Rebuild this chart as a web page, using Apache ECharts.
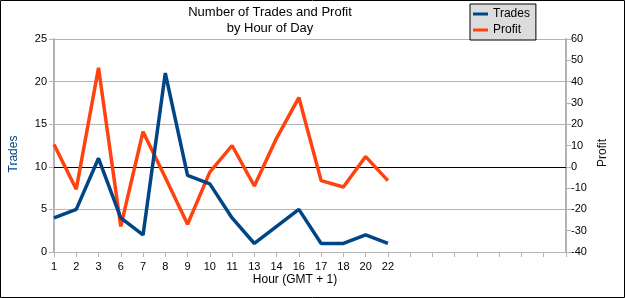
<!DOCTYPE html>
<html>
<head>
<meta charset="utf-8">
<title>Number of Trades and Profit by Hour of Day</title>
<script src="https://cdn.jsdelivr.net/npm/echarts@6/dist/echarts.min.js"></script>
<style>
  html, body { margin: 0; padding: 0; background: #fff; }
  #chart { width: 625px; height: 298px; }
</style>
</head>
<body>
<div id="chart"></div>
<script>
// hours that had trades, plus empty slots to the right like the original sheet
var hours = ['1', '2', '3', '6', '7', '8', '9', '10', '11', '13', '14', '16', '17', '18', '20', '22',
             '', '', '', '', '', '', '', ''];
var trades = [4, 5, 11, 4, 2, 21, 9, 8, 4, 1, 3, 5, 1, 1, 2, 1];
var profit = [10.5, -10.5, 46.5, -28, 16.5, -5, -27, -2.5, 10, -9, 13.5, 32.5, -6.5, -9.5, 4.8, -6.5];

var chart = echarts.init(document.getElementById('chart'), null, { renderer: 'canvas' });
var font = '"Liberation Sans", Arial, sans-serif';
var gridGray = '#b3b3b3';

var option = {
  backgroundColor: '#ffffff',
  animation: false,
  textStyle: { fontFamily: font },
  color: ['#004586', '#ff420e'],
  grid: { left: 54, right: 59, top: 39, bottom: 46, containLabel: false },
  legend: {
    orient: 'vertical',
    left: 470,
    top: 4,
    icon: 'rect',
    itemWidth: 15,
    itemHeight: 3,
    itemGap: 4,
    padding: [4, 6, 4, 3],
    backgroundColor: '#dcdcdc',
    borderColor: '#000',
    borderWidth: 1,
    textStyle: { fontSize: 12, color: '#000' },
    data: ['Trades', 'Profit']
  },
  xAxis: {
    type: 'category',
    data: hours,
    boundaryGap: false,
    axisLine: { lineStyle: { color: gridGray, width: 1 } },
    axisTick: { interval: 0, length: 5, lineStyle: { color: gridGray } },
    axisLabel: { interval: 0, fontSize: 11, color: '#000', margin: 9 },
    splitLine: { show: false }
  },
  yAxis: [{
    type: 'value',
    min: 0, max: 25, interval: 5,
    axisLine: { show: true, lineStyle: { color: gridGray, width: 2 } },
    axisTick: { show: true, length: 5, lineStyle: { color: gridGray } },
    axisLabel: { fontSize: 11, color: '#000', margin: 7 },
    splitLine: { show: true, lineStyle: { color: gridGray, width: 1 } }
  }, {
    type: 'value',
    min: -40, max: 60, interval: 10,
    axisLine: { show: true, lineStyle: { color: gridGray, width: 2 } },
    axisTick: { show: true, length: 5, lineStyle: { color: gridGray } },
    axisLabel: { fontSize: 11, color: '#000', margin: 5 },
    splitLine: { show: false }
  }],
  series: [{
    name: 'Trades',
    type: 'line',
    data: trades,
    yAxisIndex: 0,
    z: 4,
    showSymbol: false,
    lineStyle: { width: 3.5 }
  }, {
    name: 'Profit',
    type: 'line',
    data: profit,
    yAxisIndex: 1,
    z: 3,
    showSymbol: false,
    lineStyle: { width: 3.5 },
    markLine: {
      silent: true,
      z: 1,
      symbol: 'none',
      label: { show: false },
      lineStyle: { color: '#000', width: 1, type: 'solid' },
      data: [{ yAxis: 0 }]
    }
  }],
  graphic: [{
    type: 'text',
    x: 270, y: 4,
    style: {
      text: 'Number of Trades and Profit\nby Hour of Day',
      font: '13px ' + font,
      fill: '#000',
      align: 'center',
      lineHeight: 16
    }
  }, {
    type: 'text',
    x: 295, y: 274,
    style: { text: 'Hour (GMT + 1)', font: '12px ' + font, fill: '#000', align: 'center' }
  }, {
    type: 'text',
    x: 14, y: 154,
    rotation: Math.PI / 2,
    style: { text: 'Trades', font: '12px ' + font, fill: '#004586', align: 'center', verticalAlign: 'middle' }
  }, {
    type: 'text',
    x: 603, y: 153,
    rotation: Math.PI / 2,
    style: { text: 'Profit', font: '12px ' + font, fill: '#111', align: 'center', verticalAlign: 'middle' }
  }, {
    type: 'rect',
    shape: { x: 0.5, y: 0.5, width: 624, height: 297 },
    style: { fill: 'none', stroke: '#000', lineWidth: 1 },
    silent: true
  }]
};

chart.setOption(option);
</script>
</body>
</html>
